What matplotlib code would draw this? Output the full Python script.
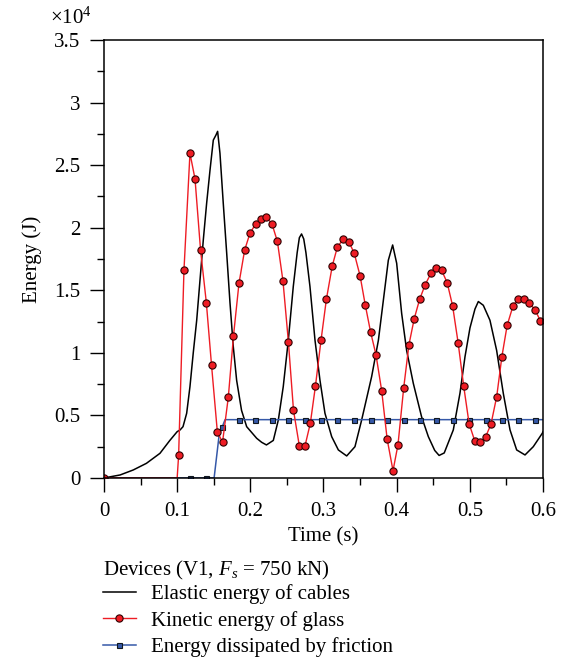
import numpy as np
import matplotlib
matplotlib.use("Agg")
import matplotlib.pyplot as plt
from matplotlib.ticker import MultipleLocator, FuncFormatter

# values, energy in units of 1e4 J
t_elastic = [0, 0.022, 0.04, 0.058, 0.0765, 0.090, 0.100, 0.104, 0.108, 0.113,
             0.1175, 0.122, 0.1267, 0.1312, 0.1357, 0.1403, 0.1449, 0.1494, 0.153,
             0.1553, 0.1585, 0.163, 0.1677, 0.1722, 0.1767, 0.1813, 0.188, 0.195,
             0.2087, 0.2155, 0.222, 0.2314, 0.2383, 0.245, 0.2519, 0.2587, 0.264,
             0.267, 0.270, 0.273, 0.276, 0.2815, 0.2884, 0.2952, 0.302, 0.3112,
             0.3203, 0.3317, 0.343, 0.352, 0.3658, 0.375, 0.3818, 0.3886, 0.3945,
             0.400, 0.4068, 0.4136, 0.4227, 0.434, 0.4433, 0.452, 0.458, 0.465,
             0.4774, 0.4865, 0.4934, 0.5002, 0.507, 0.5116, 0.5184, 0.5275, 0.5366,
             0.5457, 0.5549, 0.564, 0.5754, 0.5867, 0.599, 0.6]
e_elastic = [0, 0.024, 0.064, 0.117, 0.197, 0.30, 0.37, 0.384, 0.41, 0.517,
             0.73, 1.0, 1.26, 1.58, 1.90, 2.196, 2.46, 2.70, 2.74,
             2.77, 2.595, 2.196, 1.796, 1.40, 1.05, 0.78, 0.54, 0.41,
             0.317, 0.285, 0.264, 0.30, 0.464, 0.73, 1.10, 1.53, 1.80,
             1.92, 1.95, 1.91, 1.80, 1.53, 1.10, 0.78, 0.517, 0.33,
             0.224, 0.176, 0.25, 0.46, 0.81, 1.10, 1.42, 1.74, 1.862,
             1.716, 1.316, 1.02, 0.757, 0.49, 0.33, 0.22, 0.18, 0.20,
             0.384, 0.677, 0.97, 1.20, 1.35, 1.41, 1.38, 1.26, 1.02,
             0.677, 0.384, 0.224, 0.184, 0.25, 0.357, 0.37]

t_kinetic = [0, 0.1, 0.102, 0.1093, 0.1175, 0.1244, 0.132, 0.1399, 0.147, 0.1549,
             0.162, 0.1699, 0.177, 0.1845, 0.1922, 0.1995, 0.2073, 0.2146, 0.222,
             0.2296, 0.237, 0.2446, 0.252, 0.259, 0.267, 0.2747, 0.282, 0.289,
             0.2966, 0.304, 0.312, 0.319, 0.327, 0.3348, 0.342, 0.350, 0.357,
             0.3644, 0.3717, 0.3795, 0.387, 0.395, 0.4018, 0.4096, 0.4168, 0.424,
             0.4314, 0.439, 0.4469, 0.454, 0.4614, 0.469, 0.4764, 0.484, 0.4915,
             0.499, 0.5066, 0.514, 0.5215, 0.5289, 0.5367, 0.5438, 0.551, 0.559,
             0.566, 0.574, 0.581, 0.589, 0.5963]
e_kinetic = [0, 0, 0.18, 1.66, 2.595, 2.39, 1.82, 1.40, 0.90, 0.37,
             0.285, 0.645, 1.137, 1.556, 1.82, 1.956, 2.03, 2.07, 2.084,
             2.03, 1.89, 1.575, 1.09, 0.54, 0.256, 0.256, 0.437, 0.735,
             1.10, 1.43, 1.695, 1.846, 1.908, 1.886, 1.796, 1.615, 1.385,
             1.165, 0.986, 0.698, 0.31, 0.058, 0.266, 0.72, 1.066, 1.273,
             1.428, 1.545, 1.636, 1.681, 1.66, 1.561, 1.377, 1.08, 0.738,
             0.434, 0.298, 0.288, 0.328, 0.43, 0.65, 0.97, 1.22, 1.375,
             1.43, 1.433, 1.40, 1.345, 1.257]

t_friction = [0, 0.1175, 0.1394, 0.1505, 0.1535, 0.1575, 0.1617, 0.1655, 0.1845,
              0.207, 0.2296, 0.252, 0.2747, 0.297, 0.319, 0.342, 0.3644, 0.387,
              0.4096, 0.432, 0.454, 0.4764, 0.499, 0.5215, 0.544, 0.566, 0.589, 0.6]
e_friction = [0, 0, 0, 0, 0.15, 0.35, 0.41, 0.466, 0.466,
              0.466, 0.466, 0.466, 0.466, 0.466, 0.466, 0.466, 0.466, 0.466,
              0.466, 0.466, 0.466, 0.466, 0.466, 0.466, 0.466, 0.466, 0.466, 0.466]

labels = ["Elastic energy of cables", "Kinetic energy of glass",
          "Energy dissipated by friction"]

plt.rcParams['font.family'] = ['Liberation Serif', 'DejaVu Serif']
plt.rcParams['mathtext.fontset'] = 'custom'
plt.rcParams['mathtext.rm'] = 'Liberation Serif'
plt.rcParams['mathtext.it'] = 'Liberation Serif:italic'
plt.rcParams['font.size'] = 15

fig = plt.figure(figsize=(5.63, 6.59), dpi=100)
ax = fig.add_axes([0.1847, 0.2747, 0.7798, 0.6646])

red = '#ee1c24'
blue = '#3558a8'

kin_marks = [i for i in range(len(t_kinetic)) if i != 1]
fr_marks = [i for i in range(len(t_friction)) if i not in (0, 3, 4, 5, 7, len(t_friction) - 1)]

l1, = ax.plot(t_elastic, e_elastic, color='black', lw=1.1, label=labels[0])
l3, = ax.plot(t_friction, e_friction, color=blue, lw=1.1, marker='s', ms=3.6,
              mfc=blue, mec='#101820', mew=0.8, markevery=fr_marks, label=labels[2])
l2, = ax.plot(t_kinetic, e_kinetic, color=red, lw=1.0, marker='o', ms=5.2,
              mfc=red, mec='#300000', mew=0.8, markevery=kin_marks, label=labels[1])

ax.set_xlim(0, 0.6)
ax.set_ylim(0, 3.5)
ax.xaxis.set_major_locator(MultipleLocator(0.1))
ax.xaxis.set_minor_locator(MultipleLocator(0.05))
ax.yaxis.set_major_locator(MultipleLocator(0.5))
ax.yaxis.set_minor_locator(MultipleLocator(0.25))
ax.xaxis.set_major_formatter(FuncFormatter(lambda v, p: '%g' % round(v, 2)))
ax.yaxis.set_major_formatter(FuncFormatter(lambda v, p: '%g' % round(v, 2)))
ax.tick_params(which='major', direction='out', length=10, width=1.0, pad=7)
ax.tick_params(which='minor', direction='out', length=5, width=1.0)
ax.tick_params(top=False, right=False)
for s in ax.spines.values():
    s.set_linewidth(1.1)

ax.set_xlabel('Time (s)', labelpad=5)
ax.set_ylabel('Energy (J)', labelpad=9)
ax.text(-0.027, 1.036, '×10$^{4}$', transform=ax.transAxes, ha='right', va='baseline')

# legend title drawn on its own so its gap to the rows can be set
fig.text(103 / 563, 1 - 575 / 659, 'Devices (V1, $F_s$ = 750 kN)',
         ha='left', va='baseline')
leg = fig.legend(handles=[l1, l2, l3], loc='upper left',
                 bbox_to_anchor=(103 / 563, 1 - 584 / 659),
                 frameon=False, numpoints=1, handlelength=1.58, handletextpad=0.72,
                 borderpad=0, borderaxespad=0, labelspacing=0.33)

fig.savefig('out.png', dpi=100)
